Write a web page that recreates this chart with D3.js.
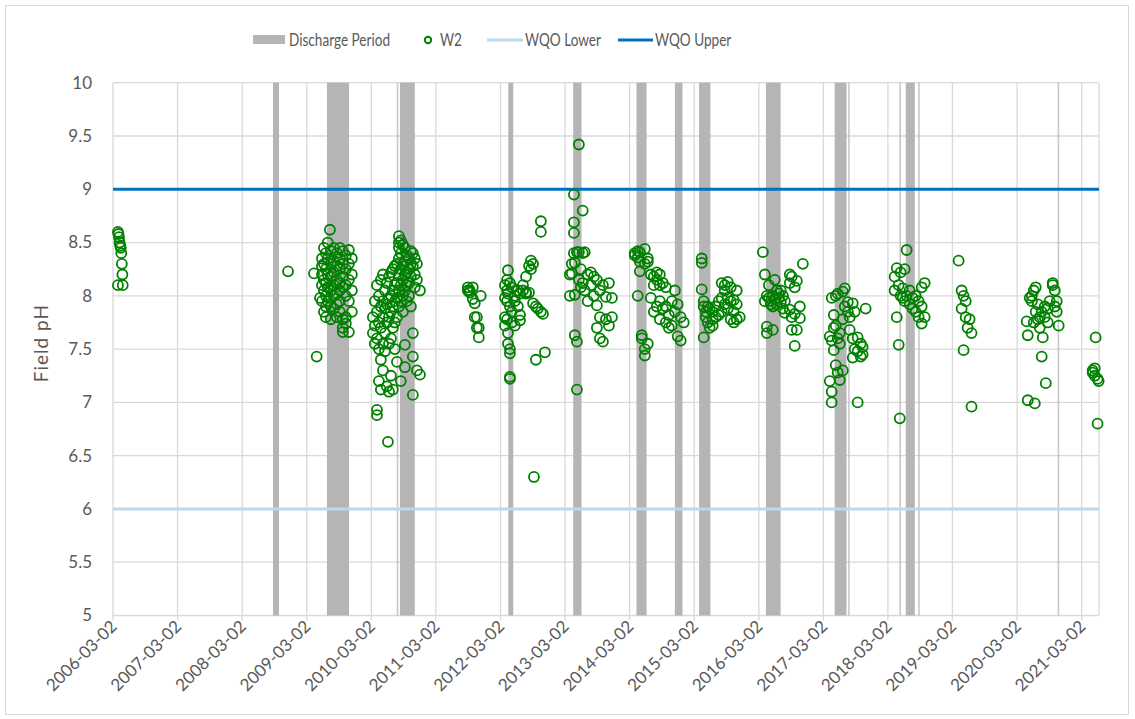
<!DOCTYPE html>
<html><head><meta charset="utf-8">
<script src="https://cdn.jsdelivr.net/npm/d3@7"></script>
<style>body{margin:0;background:#fff;} text{font-family:Lato,"Noto Sans",sans-serif;fill:#595959;}</style>
</head><body><svg id="c" width="1135" height="719"></svg>
<script>
// ---------- DATA ----------
const xTickLabels = ["2006-03-02","2007-03-02","2008-03-02","2009-03-02","2010-03-02","2011-03-02","2012-03-02","2013-03-02","2014-03-02","2015-03-02","2016-03-02","2017-03-02","2018-03-02","2019-03-02","2020-03-02","2021-03-02"];
const yTicks = [5,5.5,6,6.5,7,7.5,8,8.5,9,9.5,10];
const xDomain = ["2006-03-02","2021-06-08"];
const wqoLower = 6;
const wqoUpper = 9;
const legendLabels = ["Discharge Period","W2","WQO Lower","WQO Upper"];
const dischargePeriods = [
  ["2008-08-23","2008-09-26"],["2009-06-24","2009-10-27"],["2010-07-24","2010-07-26"],["2010-08-11","2010-11-03"],
  ["2012-04-15","2012-05-13"],["2013-04-17","2013-06-03"],["2014-04-10","2014-06-06"],["2014-11-13","2014-12-26"],
  ["2015-03-30","2015-06-02"],["2016-04-11","2016-07-03"],["2017-05-05","2017-07-11"],["2017-07-20","2017-07-27"],
  ["2018-05-06","2018-05-07"],["2018-06-11","2018-08-01"],["2018-08-20","2018-08-26"],["2020-10-17","2020-10-20"]
];
const w2_2006 = [["2006-03-30",8.60],["2006-04-02",8.58],["2006-04-05",8.55],["2006-04-08",8.50],["2006-04-12",8.47],["2006-04-15",8.45],["2006-04-18",8.40],["2006-04-21",8.30],["2006-04-24",8.20],["2006-03-30",8.10],["2006-04-26",8.10]];
const w2_2008 = [["2008-11-16",8.23]];
const w2_2009 = [["2009-04-12",8.21],["2009-04-27",7.43],["2009-05-16",7.98],["2009-07-11",8.62],
  ["2009-05-27",8.35],["2009-05-27",8.28],["2009-05-27",8.20],["2009-05-27",8.10],["2009-05-27",7.95],
  ["2009-06-07",8.45],["2009-06-07",8.30],["2009-06-07",8.15],["2009-06-07",8.05],["2009-06-07",7.85],
  ["2009-06-18",8.40],["2009-06-18",8.25],["2009-06-18",8.12],["2009-06-18",8.00],["2009-06-18",7.90],["2009-06-18",7.80],
  ["2009-06-29",8.50],["2009-06-29",8.35],["2009-06-29",8.20],["2009-06-29",8.08],["2009-06-29",7.95],
  ["2009-07-16",8.42],["2009-07-16",8.30],["2009-07-16",8.18],["2009-07-16",8.05],["2009-07-16",7.90],["2009-07-16",7.78],
  ["2009-08-02",8.45],["2009-08-02",8.33],["2009-08-02",8.22],["2009-08-02",8.10],["2009-08-02",8.00],["2009-08-02",7.88],
  ["2009-08-19",8.40],["2009-08-19",8.28],["2009-08-19",8.15],["2009-08-19",8.02],["2009-08-19",7.92],["2009-08-19",7.80],
  ["2009-09-05",8.45],["2009-09-05",8.35],["2009-09-05",8.25],["2009-09-05",8.12],["2009-09-05",8.05],["2009-09-05",7.95],["2009-09-05",7.85],
  ["2009-09-22",8.42],["2009-09-22",8.30],["2009-09-22",8.18],["2009-09-22",8.08],["2009-09-22",7.78],["2009-09-22",7.70],["2009-09-22",7.66],
  ["2009-10-09",8.38],["2009-10-09",8.25],["2009-10-09",8.10],["2009-10-09",8.00],["2009-10-09",7.80],["2009-10-09",7.74],
  ["2009-10-26",8.43],["2009-10-26",8.30],["2009-10-26",8.15],["2009-10-26",7.95],["2009-10-26",7.66],
  ["2009-11-12",8.35],["2009-11-12",8.20],["2009-11-12",8.05],["2009-11-12",7.85]];
const w2_2010 = [["2010-03-11",7.80],["2010-03-11",7.65],["2010-03-22",7.95],["2010-03-22",7.72],["2010-03-22",7.55],
  ["2010-04-03",8.10],["2010-04-03",7.85],["2010-04-03",7.60],["2010-04-03",6.93],["2010-04-03",6.88],
  ["2010-04-14",8.00],["2010-04-14",7.75],["2010-04-14",7.50],["2010-04-14",7.20],
  ["2010-04-25",8.15],["2010-04-25",7.90],["2010-04-25",7.70],["2010-04-25",7.40],["2010-04-25",7.12],
  ["2010-05-07",8.20],["2010-05-07",7.95],["2010-05-07",7.80],["2010-05-07",7.55],["2010-05-07",7.30],
  ["2010-05-18",8.05],["2010-05-18",7.88],["2010-05-18",7.65],["2010-05-18",7.48],
  ["2010-05-29",8.12],["2010-05-29",7.92],["2010-05-29",7.75],["2010-05-29",7.15],["2010-06-04",6.63],
  ["2010-06-10",8.18],["2010-06-10",7.98],["2010-06-10",7.80],["2010-06-10",7.55],["2010-06-10",7.10],
  ["2010-06-21",8.22],["2010-06-21",8.00],["2010-06-21",7.85],["2010-06-21",7.60],["2010-06-21",7.25],
  ["2010-07-02",8.25],["2010-07-02",8.05],["2010-07-02",7.90],["2010-07-02",7.70],["2010-07-02",7.12],
  ["2010-07-13",8.28],["2010-07-13",8.10],["2010-07-13",7.95],["2010-07-13",7.75],["2010-07-13",7.50],
  ["2010-07-25",8.30],["2010-07-25",8.12],["2010-07-25",7.98],["2010-07-25",7.80],["2010-07-25",7.38],
  ["2010-08-05",8.56],["2010-08-05",8.50],["2010-08-05",8.45],["2010-08-05",8.35],["2010-08-05",8.20],["2010-08-05",8.05],["2010-08-05",7.90],
  ["2010-08-16",8.52],["2010-08-16",8.40],["2010-08-16",8.25],["2010-08-16",8.10],["2010-08-16",7.95],["2010-08-16",7.20],
  ["2010-08-28",8.48],["2010-08-28",8.30],["2010-08-28",8.15],["2010-08-28",8.00],["2010-08-28",7.85],
  ["2010-09-08",8.45],["2010-09-08",8.32],["2010-09-08",8.20],["2010-09-08",8.05],["2010-09-08",7.54],["2010-09-08",7.33],
  ["2010-09-19",8.38],["2010-09-19",8.22],["2010-09-19",8.10],["2010-09-19",7.95],
  ["2010-10-01",8.35],["2010-10-01",8.25],["2010-10-01",8.12],["2010-10-01",8.00],
  ["2010-10-12",8.42],["2010-10-12",8.30],["2010-10-12",8.18],["2010-10-12",7.90],
  ["2010-10-23",8.40],["2010-10-23",8.28],["2010-10-23",7.65],["2010-10-23",7.43],["2010-10-23",7.07],
  ["2010-11-03",8.35],["2010-11-03",8.20],["2010-11-03",8.08],
  ["2010-11-15",8.30],["2010-11-15",8.15],["2010-11-15",7.30],["2010-12-02",8.05],["2010-12-02",7.26]];
const w2_2011 = [["2011-08-30",8.08],["2011-08-30",8.05],["2011-09-10",8.05],["2011-09-10",8.03],["2011-09-27",8.08],["2011-09-27",7.97],
  ["2011-10-08",7.93],["2011-10-08",7.80],["2011-10-20",7.80],["2011-10-20",7.70],["2011-10-31",7.61],["2011-10-31",7.70],["2011-11-11",8.00]];
const w2_2012 = [["2012-03-27",8.10],["2012-03-27",7.98],["2012-03-27",7.80],["2012-03-27",7.72],
  ["2012-04-08",8.15],["2012-04-08",8.05],["2012-04-08",7.95],["2012-04-08",7.78],
  ["2012-04-13",8.24],["2012-04-13",8.02],["2012-04-13",7.65],["2012-04-13",7.55],
  ["2012-04-24",8.12],["2012-04-24",7.90],["2012-04-24",7.50],["2012-04-24",7.46],["2012-04-24",7.24],["2012-04-24",7.22],
  ["2012-05-05",8.08],["2012-05-05",7.85],["2012-05-05",7.75],["2012-05-22",8.00],["2012-05-22",7.95],["2012-05-22",7.72],
  ["2012-06-08",8.05],["2012-06-08",7.90],["2012-06-20",8.02],["2012-06-20",7.77],["2012-06-20",7.82],
  ["2012-07-07",8.05],["2012-07-07",8.10],["2012-07-24",8.18],["2012-07-24",8.03],["2012-07-24",8.02],
  ["2012-08-10",8.28],["2012-08-10",8.03],["2012-08-21",8.33],["2012-08-21",8.25],["2012-09-02",8.30],["2012-09-02",7.93],
  ["2012-09-07",6.30],["2012-09-18",7.90],["2012-09-18",7.40],["2012-09-29",7.88],
  ["2012-10-16",8.70],["2012-10-16",8.60],["2012-10-16",7.85],["2012-10-28",7.83],["2012-11-08",7.47]];
const w2_2013 = [["2013-03-29",8.20],["2013-03-29",8.00],["2013-04-09",8.21],["2013-04-09",8.30],
  ["2013-04-21",8.95],["2013-04-21",8.69],["2013-04-21",8.59],["2013-04-21",8.40],
  ["2013-04-26",8.31],["2013-04-26",8.01],["2013-04-26",7.63],["2013-05-08",8.41],["2013-05-08",7.12],["2013-05-08",7.57],
  ["2013-05-19",9.42],["2013-05-19",8.41],["2013-05-19",8.15],["2013-05-30",8.25],["2013-05-30",8.08],
  ["2013-06-10",8.80],["2013-06-10",8.40],["2013-06-10",8.12],["2013-06-21",8.41],["2013-06-21",8.05],
  ["2013-07-08",8.20],["2013-07-08",7.95],["2013-07-26",8.22],["2013-07-26",8.10],["2013-08-12",8.18],["2013-08-12",8.00],
  ["2013-08-29",8.15],["2013-08-29",7.91],["2013-08-29",7.70],["2013-09-15",8.05],["2013-09-15",7.80],["2013-09-15",7.60],
  ["2013-10-02",8.10],["2013-10-02",7.57],["2013-10-19",7.99],["2013-10-19",7.78],["2013-11-05",8.12],["2013-11-05",7.72],
  ["2013-11-22",7.80],["2013-11-22",7.98]];
const w2_2014 = [["2014-03-31",8.40],["2014-03-31",8.38],["2014-04-17",8.42],["2014-04-17",8.36],["2014-04-17",8.00],
  ["2014-04-29",8.41],["2014-04-29",8.32],["2014-04-29",8.23],["2014-05-10",7.63],["2014-05-10",7.60],
  ["2014-05-27",8.44],["2014-05-27",8.30],["2014-05-27",7.50],["2014-05-27",7.44],["2014-06-13",8.35],["2014-06-13",8.32],["2014-06-13",7.55],
  ["2014-06-30",8.20],["2014-06-30",7.98],["2014-07-17",8.18],["2014-07-17",8.10],["2014-07-17",7.85],
  ["2014-08-03",8.22],["2014-08-03",8.15],["2014-08-03",7.90],["2014-08-20",8.20],["2014-08-20",8.10],["2014-08-20",7.95],["2014-08-20",7.78],
  ["2014-09-06",8.12],["2014-09-06",7.88],["2014-09-23",8.08],["2014-09-23",7.90],["2014-09-23",7.75],
  ["2014-10-10",7.82],["2014-10-10",7.70],["2014-10-27",7.95],["2014-10-27",7.72],["2014-11-13",8.05],["2014-11-13",7.85],
  ["2014-11-29",7.92],["2014-11-29",7.62],["2014-12-16",7.80],["2014-12-16",7.58],["2015-01-02",7.75]];
const w2_2015 = [["2015-04-14",8.35],["2015-04-14",8.31],["2015-04-14",8.06],["2015-04-25",7.95],["2015-04-25",7.90],["2015-04-25",7.61],
  ["2015-05-07",7.85],["2015-05-07",7.80],["2015-05-18",7.75],["2015-05-18",7.90],["2015-05-29",7.88],["2015-05-29",7.70],
  ["2015-06-15",7.85],["2015-06-15",7.78],["2015-06-15",7.72],["2015-07-02",7.90],["2015-07-02",7.80],
  ["2015-07-19",7.95],["2015-07-19",7.82],["2015-08-05",8.12],["2015-08-05",7.98],["2015-08-05",7.85],
  ["2015-08-22",8.10],["2015-08-22",8.05],["2015-08-22",7.92],["2015-09-08",8.13],["2015-09-08",7.98],["2015-09-08",7.88],
  ["2015-09-25",8.08],["2015-09-25",7.95],["2015-09-25",7.78],["2015-10-12",7.96],["2015-10-12",7.85],["2015-10-12",7.75],
  ["2015-10-29",7.92],["2015-10-29",7.78],["2015-10-29",8.05],["2015-11-15",7.80]];
const w2_2016 = [["2016-03-25",8.41],["2016-04-05",8.20],["2016-04-05",7.95],["2016-04-16",8.00],["2016-04-16",7.71],["2016-04-16",7.65],
  ["2016-04-28",7.98],["2016-04-28",8.10],["2016-05-09",7.95],["2016-05-09",7.92],["2016-05-20",8.00],["2016-05-20",7.90],["2016-05-20",7.68],
  ["2016-05-31",8.15],["2016-05-31",7.97],["2016-06-12",8.05],["2016-06-12",7.92],["2016-06-23",7.98],["2016-06-23",8.02],
  ["2016-07-04",8.05],["2016-07-04",7.94],["2016-07-16",7.88],["2016-07-16",8.00],["2016-07-27",7.84],["2016-07-27",7.95],
  ["2016-08-24",8.20],["2016-08-24",8.12],["2016-08-24",7.87],["2016-09-04",8.18],["2016-09-04",7.80],["2016-09-04",7.68],
  ["2016-09-21",8.08],["2016-09-21",7.83],["2016-09-21",7.53],["2016-10-03",8.14],["2016-10-03",7.68],
  ["2016-10-20",7.79],["2016-10-20",7.90],["2016-11-06",8.30]];
const w2_2017 = [["2017-04-07",7.62],["2017-04-07",7.20],["2017-04-18",7.98],["2017-04-18",7.58],["2017-04-18",7.00],["2017-04-18",7.10],
  ["2017-04-30",7.82],["2017-04-30",7.70],["2017-04-30",7.49],["2017-05-11",8.00],["2017-05-11",7.72],["2017-05-11",7.35],
  ["2017-05-22",8.02],["2017-05-22",7.60],["2017-05-22",7.28],["2017-06-03",7.55],["2017-06-03",7.21],["2017-06-03",7.65],
  ["2017-06-20",8.04],["2017-06-20",7.30],["2017-06-20",7.78],["2017-07-01",8.07],["2017-07-01",7.90],
  ["2017-07-18",7.94],["2017-07-18",7.85],["2017-07-29",7.80],["2017-07-29",7.68],
  ["2017-08-15",7.93],["2017-08-15",7.60],["2017-08-15",7.42],["2017-08-26",7.85],["2017-08-26",7.50],
  ["2017-09-12",7.61],["2017-09-12",7.00],["2017-09-12",7.48],["2017-09-29",7.55],["2017-09-29",7.43],
  ["2017-10-10",7.52],["2017-10-10",7.45],["2017-10-27",7.88]];
const w2_2018 = [["2018-04-09",8.18],["2018-04-09",8.05],["2018-04-21",7.80],["2018-04-21",8.26],["2018-05-02",7.54],["2018-05-02",8.10],
  ["2018-05-08",6.85],["2018-05-13",8.22],["2018-05-13",8.00],["2018-05-25",8.07],["2018-05-25",7.98],
  ["2018-06-05",8.25],["2018-06-05",7.95],["2018-06-16",8.43],["2018-06-16",8.00],["2018-07-03",8.05],["2018-07-03",7.92],
  ["2018-07-20",7.98],["2018-07-20",7.88],["2018-08-06",8.00],["2018-08-06",7.85],["2018-08-23",7.95],["2018-08-23",7.80],
  ["2018-09-09",8.08],["2018-09-09",7.90],["2018-09-09",7.74],["2018-09-26",8.12],["2018-09-26",7.80]];
const w2_2019 = [["2019-04-06",8.33],["2019-04-23",8.05],["2019-04-23",7.88],["2019-05-04",8.00],["2019-05-04",7.49],
  ["2019-05-16",7.95],["2019-05-16",7.80],["2019-05-27",7.70],["2019-06-07",7.78],["2019-06-18",7.65],["2019-06-18",6.96]];
const w2_2020 = [["2020-04-25",7.76],["2020-05-01",7.63],["2020-05-01",7.02],["2020-05-12",7.98],["2020-05-24",8.00],["2020-05-24",7.95],
  ["2020-06-04",8.05],["2020-06-04",7.75],["2020-06-10",6.99],["2020-06-15",8.08],["2020-06-15",7.85],["2020-06-27",7.78],["2020-06-27",7.92],
  ["2020-07-08",7.80],["2020-07-08",7.70],["2020-07-19",7.43],["2020-07-19",7.85],["2020-07-25",7.61],["2020-08-05",7.80],["2020-08-05",7.90],
  ["2020-08-11",7.18],["2020-08-22",7.75],["2020-08-22",7.88],["2020-09-02",7.95],["2020-09-19",8.10],["2020-09-19",8.12],
  ["2020-10-01",8.05],["2020-10-01",7.90],["2020-10-12",7.95],["2020-10-12",7.85],["2020-10-23",7.72]];
const w2_2021 = [["2021-05-03",7.30],["2021-05-03",7.28],["2021-05-15",7.32],["2021-05-15",7.25],["2021-05-20",7.61],
  ["2021-05-31",6.80],["2021-05-31",7.22],["2021-06-06",7.20]];

// ---------- CHART ----------
const parse = d3.timeParse("%Y-%m-%d");
const w2 = [].concat(w2_2006,w2_2008,w2_2009,w2_2010,w2_2011,w2_2012,w2_2013,w2_2014,w2_2015,w2_2016,w2_2017,w2_2018,w2_2019,w2_2020,w2_2021)
  .map(d => ({date: parse(d[0]), v: d[1]}));
const svg = d3.select("#c");
const L = 113, R = 1099, T = 82.7, B = 615.5;
const x = d3.scaleTime().domain(xDomain.map(parse)).range([L, R]);
const y = d3.scaleLinear().domain([5, 10]).range([B, T]);
const grid = "#d9d9d9";

svg.append("rect").attr("x",5.5).attr("y",5.5).attr("width",1123).attr("height",709)
  .attr("fill","#fff").attr("stroke","#d9d9d9");

// horizontal gridlines
svg.append("g").selectAll("line").data(yTicks).join("line")
  .attr("x1", L).attr("x2", R).attr("y1", d => y(d)).attr("y2", d => y(d))
  .attr("stroke", grid).attr("stroke-width", 1.3);
// vertical gridlines
const xTicks = xTickLabels.map(parse);
svg.append("g").selectAll("line").data(xTicks).join("line")
  .attr("x1", d => x(d)).attr("x2", d => x(d)).attr("y1", T).attr("y2", B + 5)
  .attr("stroke", grid).attr("stroke-width", 1.3);
svg.append("line").attr("x1", R).attr("x2", R).attr("y1", T).attr("y2", B).attr("stroke", grid).attr("stroke-width", 1.3);

// discharge periods
svg.append("g").selectAll("rect").data(dischargePeriods).join("rect")
  .attr("x", d => x(parse(d[0])))
  .attr("width", d => Math.max(x(parse(d[1])) - x(parse(d[0])), 1.6))
  .attr("y", y(10)).attr("height", y(5) - y(10))
  .attr("fill", "#b5b5b5")
  .attr("opacity", d => (x(parse(d[1])) - x(parse(d[0]))) < 2 ? 0.75 : 1);

// WQO lines
svg.append("line").attr("x1", L).attr("x2", R).attr("y1", y(wqoLower)).attr("y2", y(wqoLower))
  .attr("stroke", "#bdd7ee").attr("stroke-width", 3);
svg.append("line").attr("x1", L).attr("x2", R).attr("y1", y(wqoUpper)).attr("y2", y(wqoUpper))
  .attr("stroke", "#0070c0").attr("stroke-width", 3);

// W2 points
svg.append("g").selectAll("circle").data(w2).join("circle")
  .attr("cx", d => x(d.date)).attr("cy", d => y(d.v)).attr("r", 5)
  .attr("fill", "none").attr("stroke", "#008000").attr("stroke-width", 1.8);

// y labels
svg.append("g").selectAll("text").data(yTicks).join("text")
  .attr("x", 92).attr("y", d => y(d)).attr("dy", "0.35em").attr("text-anchor", "end")
  .attr("font-size", 17).text(d => d3.format("~g")(d));
// x labels
svg.append("g").selectAll("text").data(xTicks).join("text")
  .attr("transform", d => `translate(${x(d) + 5},${B + 12}) rotate(-45)`)
  .attr("text-anchor", "end").attr("font-size", 17)
  .text((d, i) => xTickLabels[i]);
// y title
svg.append("text").attr("transform", `translate(48,${(T + B) / 2 - 6}) rotate(-90)`)
  .attr("text-anchor", "middle").attr("font-size", 19).attr("letter-spacing", 1).text("Field pH");

// legend
const lg = svg.append("g").attr("font-size", 17);
const legText = (x0, s) => lg.append("text").attr("transform", `translate(${x0},40) scale(0.8,1)`).attr("dy", "0.35em").text(s);
lg.append("rect").attr("x", 253).attr("y", 35).attr("width", 32).attr("height", 9).attr("fill", "#b5b5b5");
legText(289, legendLabels[0]);
lg.append("circle").attr("cx", 428).attr("cy", 40).attr("r", 3.2).attr("fill", "none").attr("stroke", "#008000").attr("stroke-width", 2);
legText(440, legendLabels[1]);
lg.append("line").attr("x1", 487).attr("x2", 523).attr("y1", 40).attr("y2", 40).attr("stroke", "#bdd7ee").attr("stroke-width", 3);
legText(525, legendLabels[2]);
lg.append("line").attr("x1", 618).attr("x2", 653).attr("y1", 40).attr("y2", 40).attr("stroke", "#0070c0").attr("stroke-width", 3);
legText(655, legendLabels[3]);
</script></body></html>
